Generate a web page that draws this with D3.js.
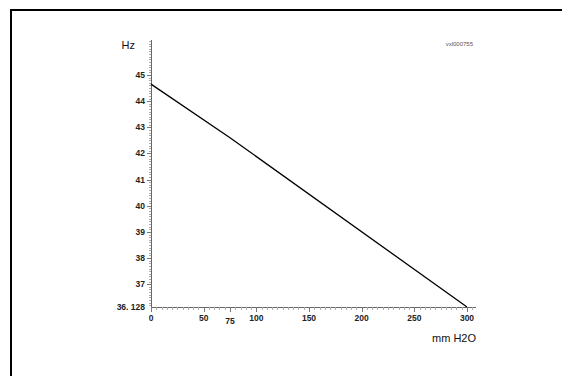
<!DOCTYPE html>
<html lang="en">
<head>
<meta charset="UTF-8">
<title>Hz vs mm H2O</title>
<script src="https://d3js.org/d3.v7.min.js"></script>
<style>
  body { margin: 0; background: #fff; }
  text { font-family: "Liberation Sans", Arial, sans-serif; }
</style>
</head>
<body>
<script>
    // data
    var pressure = [0, 75, 300];
    var freq = [44.65, 42.6, 36.128];
    var xTicks = [0, 50, 75, 100, 150, 200, 250, 300];
    var yTicks = [37, 38, 39, 40, 41, 42, 43, 44, 45];

    var svg = d3.select("body").append("svg")
        .attr("width", 562)
        .attr("height", 376);

    // frame round the picture (cut off at right and bottom)
    svg.append("path")
        .attr("d", "M11,380 L11,10 L570,10")
        .attr("fill", "none")
        .attr("stroke", "#000")
        .attr("stroke-width", 2);

    var x = d3.scaleLinear().domain([0, 300]).range([151, 467]);
    var y = d3.scaleLinear().domain([36.128, 45]).range([307, 75]);

    // y axis
    svg.append("line")
        .attr("x1", 151.5).attr("x2", 151.5)
        .attr("y1", 40).attr("y2", 307)
        .attr("stroke", "#666").attr("stroke-width", 1);

    var yMinor = d3.range(362, 464).map(function (d) { return d / 10; });
    svg.selectAll(".ymin").data(yMinor).enter().append("line")
        .attr("x1", 149).attr("x2", 151)
        .attr("y1", function (d) { return Math.round(y(d)) + 0.5; })
        .attr("y2", function (d) { return Math.round(y(d)) + 0.5; })
        .attr("stroke", "#aaa").attr("stroke-width", 1);

    svg.selectAll(".ymaj").data(yTicks).enter().append("line")
        .attr("x1", 147).attr("x2", 151)
        .attr("y1", function (d) { return Math.round(y(d)) + 0.5; })
        .attr("y2", function (d) { return Math.round(y(d)) + 0.5; })
        .attr("stroke", "#777");

    svg.selectAll(".ylab").data(yTicks).enter().append("text")
        .attr("x", 145)
        .attr("y", function (d) { return y(d) + 3; })
        .attr("text-anchor", "end")
        .attr("font-size", 8.5)
        .attr("font-weight", "bold")
        .attr("fill", "#222")
        .text(function (d) { return d; });

    svg.append("text")
        .attr("x", 145).attr("y", y(36.128) + 3)
        .attr("text-anchor", "end")
        .attr("font-size", 8.5)
        .attr("font-weight", "bold")
        .attr("fill", "#222")
        .attr("xml:space", "preserve")
        .text("36. 128");

    svg.append("text")
        .attr("x", 135).attr("y", 49)
        .attr("text-anchor", "end")
        .attr("font-size", 11)
        .attr("fill", "#111")
        .text("Hz");

    // x axis
    svg.append("line")
        .attr("x1", 151).attr("x2", 476)
        .attr("y1", 307.5).attr("y2", 307.5)
        .attr("stroke", "#666");

    var xMinor = d3.range(0, 306, 5);
    svg.selectAll(".xmin").data(xMinor).enter().append("line")
        .attr("x1", function (d) { return Math.round(x(d)) + 0.5; })
        .attr("x2", function (d) { return Math.round(x(d)) + 0.5; })
        .attr("y1", 307).attr("y2", 310)
        .attr("stroke", "#aaa");

    svg.selectAll(".xmaj").data(xTicks).enter().append("line")
        .attr("x1", function (d) { return Math.round(x(d)) + 0.5; })
        .attr("x2", function (d) { return Math.round(x(d)) + 0.5; })
        .attr("y1", 307).attr("y2", 312)
        .attr("stroke", "#777");

    svg.selectAll(".xlab").data(xTicks).enter().append("text")
        .attr("x", function (d) { return x(d); })
        .attr("y", function (d) { return d === 75 ? 323.5 : 321; })
        .attr("text-anchor", "middle")
        .attr("font-size", 8.5)
        .attr("font-weight", "bold")
        .attr("fill", "#222")
        .text(function (d) { return d; });

    svg.append("text")
        .attr("x", 476).attr("y", 342)
        .attr("text-anchor", "end")
        .attr("font-size", 11)
        .attr("fill", "#111")
        .text("mm H2O");

    svg.append("text")
        .attr("x", 473).attr("y", 46)
        .attr("text-anchor", "end")
        .attr("font-size", 6)
        .attr("fill", "#555")
        .text("vxl000755");

    // the curve
    var line = d3.line()
        .x(function (d, i) { return x(pressure[i]); })
        .y(function (d) { return y(d); });

    svg.append("path")
        .attr("d", line(freq))
        .attr("fill", "none")
        .attr("stroke", "#000")
        .attr("stroke-width", 1.3);
</script>
</body>
</html>
